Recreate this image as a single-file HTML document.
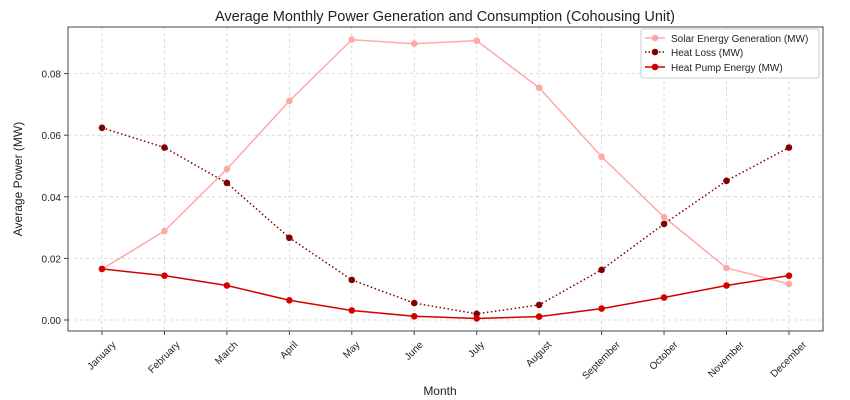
<!DOCTYPE html>
<html><head><meta charset="utf-8"><style>
html,body{margin:0;padding:0;background:#fff;width:850px;height:400px;overflow:hidden}
svg text{font-family:"Liberation Sans","DejaVu Sans",sans-serif;fill:#222}
</style></head><body>
<svg id="s" width="850" height="400" xmlns="http://www.w3.org/2000/svg">
<rect x="0" y="0" width="850" height="400" fill="#fff"/>
<text x="445" y="21" font-size="14.5" text-anchor="middle">Average Monthly Power Generation and Consumption (Cohousing Unit)</text>
<g id="grid"></g>
<g id="series"></g>
<rect x="68" y="27" width="755" height="304" fill="none" stroke="#444" stroke-width="1"/>
<text x="440" y="395" font-size="12" text-anchor="middle">Month</text>
<text transform="translate(22,179) rotate(-90)" font-size="12" text-anchor="middle">Average Power (MW)</text>
<g>
<rect x="641" y="29" width="178" height="49" fill="#fff" stroke="#ccc" rx="2"/>
<line x1="645" y1="38" x2="665" y2="38" stroke="#ffa8a8" stroke-width="1.5"/><circle cx="655" cy="38" r="3.3" fill="#ffa8a8"/>
<text x="671" y="42" font-size="10">Solar Energy Generation (MW)</text>
<line x1="645" y1="52" x2="665" y2="52" stroke="#800000" stroke-width="1.5" stroke-dasharray="1.5,2"/><circle cx="655" cy="52" r="3.3" fill="#800000"/>
<text x="671" y="56" font-size="10">Heat Loss (MW)</text>
<line x1="645" y1="67" x2="665" y2="67" stroke="#d40000" stroke-width="1.5"/><circle cx="655" cy="67" r="3.3" fill="#d40000"/>
<text x="671" y="71" font-size="10">Heat Pump Energy (MW)</text>
</g>
</svg>
<script>
var s=document.getElementById('grid'),se=document.getElementById('series'),NS="http://www.w3.org/2000/svg";
function el(p,t,a,txt){var e=document.createElementNS(NS,t);for(var k in a)e.setAttribute(k,a[k]);if(txt!=null)e.textContent=txt;p.appendChild(e);return e;}
var months=["January","February","March","April","May","June","July","August","September","October","November","December"];
function X(i){return 102+i*62.45;}
function Y(v){return 320-v*3080;}
for(var j=0;j<5;j++){var v=j*0.02,y=Y(v);
el(s,'line',{x1:68,x2:823,y1:y,y2:y,stroke:'#d0d0d0','stroke-dasharray':'3,3','stroke-width':0.8});
el(s,'line',{x1:64,x2:68,y1:y,y2:y,stroke:'#444'});
el(s,'text',{x:61,y:y+4,'font-size':10,'text-anchor':'end'},v.toFixed(2));}
for(var i=0;i<12;i++){var x=X(i);
el(s,'line',{x1:x,x2:x,y1:27,y2:331,stroke:'#d0d0d0','stroke-dasharray':'3,3','stroke-width':0.8});
el(s,'line',{x1:x,x2:x,y1:331,y2:335,stroke:'#444'});
var t=el(s,'text',{'font-size':10,'text-anchor':'middle','dominant-baseline':'central'},months[i]);
var w=t.getComputedTextLength?t.getComputedTextLength():40;
var cy=340+(w+10)*0.707/2;
t.setAttribute('transform','translate('+x+','+cy+') rotate(-45)');}
var solar=[0.0165,0.0289,0.049,0.0711,0.091,0.0897,0.0907,0.0754,0.053,0.0334,0.0169,0.0117];
var loss=[0.0624,0.056,0.0445,0.0267,0.013,0.0055,0.002,0.0049,0.0163,0.0312,0.0452,0.056];
var hp=[0.0166,0.0144,0.0112,0.0064,0.0031,0.0012,0.0005,0.0011,0.0037,0.0073,0.0112,0.0144];
function draw(d,c,dash){var p=d.map(function(v,i){return X(i)+','+Y(v)}).join(' ');
var a={points:p,fill:'none',stroke:c,'stroke-width':1.5};if(dash)a['stroke-dasharray']=dash;el(se,'polyline',a);
d.forEach(function(v,i){el(se,'circle',{cx:X(i),cy:Y(v),r:3.3,fill:c});});}
draw(solar,'#ffa8a8');draw(loss,'#800000','1.5,2.5');draw(hp,'#d40000');
</script>
</body></html>
